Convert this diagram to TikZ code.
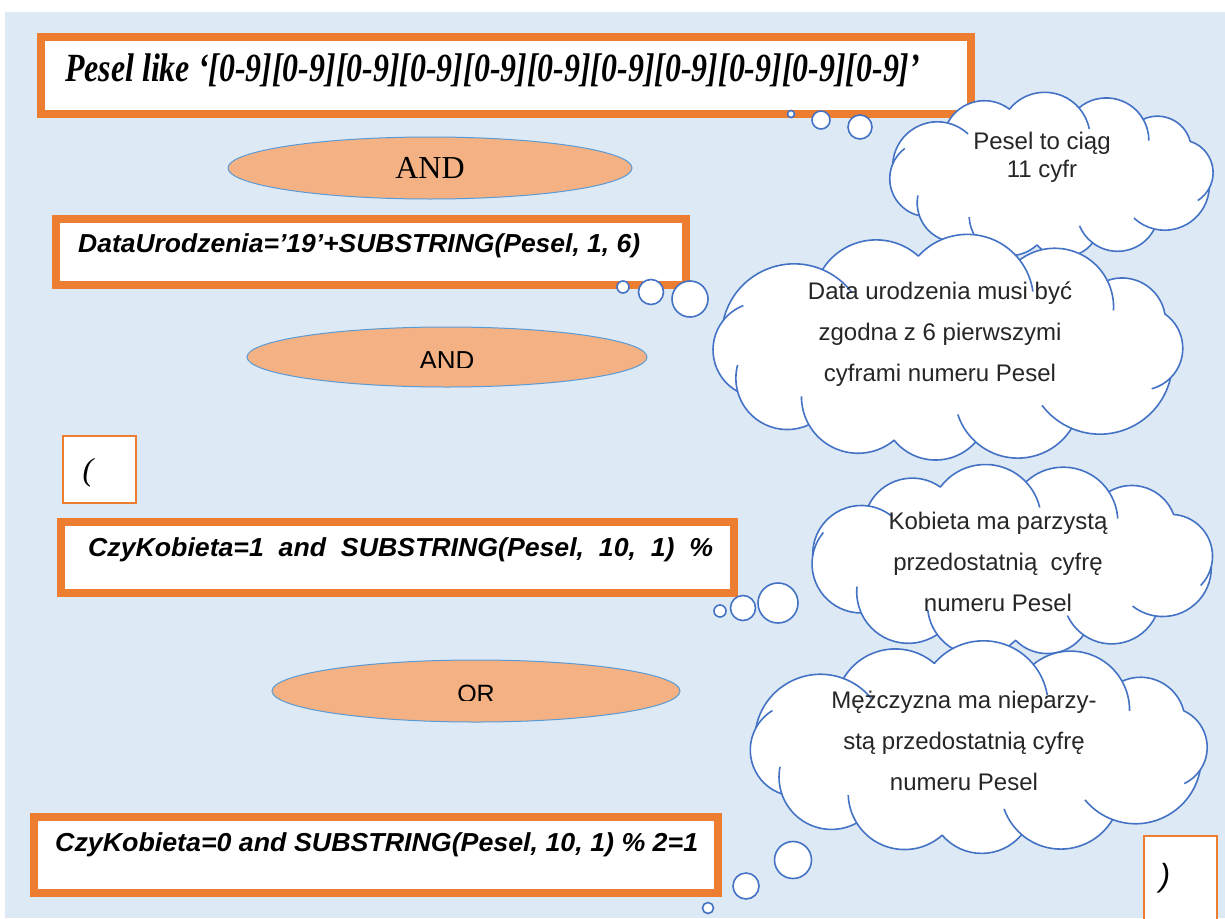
\documentclass[tikz,border=0pt]{standalone}
\usepackage{fontspec}
\setmainfont{Liberation Serif}
\setsansfont{Liberation Sans}
\usetikzlibrary{shapes.geometric,calc}
\definecolor{bgblue}{HTML}{DDE9F5}
\definecolor{boxorange}{HTML}{ED7D31}
\definecolor{ovalfill}{HTML}{F4B183}
\definecolor{ovalline}{HTML}{5B9BD5}
\definecolor{cloudline}{HTML}{4472C4}

% puff junctions on the cloud's base ellipse: angle/inner-arc flag
\def\puffangles{50/1,75/1,95/0,118/1,145/1,190/1,230/1,255/0,280/1,305/1,330/0,370/1}
\def\puffarc{100}   % angle of each outer puff arc
\def\innerarc{30}   % how far a puff continues inside the cloud
% #1,#2 centre, #3 width, #4 height, #5 rotation of the puff pattern
\newcommand\thoughtcloud[5]{%
  \begin{scope}[shift={(#1,#2)}]
    \pgfmathsetmacro\cla{0.47*#3}%
    \pgfmathsetmacro\clb{0.40*#4}%
    \pgfmathsetmacro\clo{#5}%
    \coordinate (pf0) at ({\cla*cos(10+\clo)},{\clb*sin(10+\clo)});
    \foreach \fb/\fl [remember=\fb as \fa (initially 10), count=\k] in \puffangles {
      \pgfmathsetmacro\pxa{\cla*cos(\fa+\clo)}%
      \pgfmathsetmacro\pya{\clb*sin(\fa+\clo)}%
      \pgfmathsetmacro\pxb{\cla*cos(\fb+\clo)}%
      \pgfmathsetmacro\pyb{\clb*sin(\fb+\clo)}%
      \pgfmathsetmacro\gam{atan2(\pyb-\pya,\pxb-\pxa)}%
      \pgfmathsetmacro\chd{veclen(\pxb-\pxa,\pyb-\pya)}%
      \pgfmathsetmacro\rr{\chd/(2*sin(\puffarc/2))}%
      \pgfmathsetmacro\hh{4/3*tan(\puffarc/4)*\rr}%
      \pgfmathsetmacro\hi{4/3*tan(\innerarc/4)*\rr}%
      \pgfmathsetmacro\bb{\gam-90+\puffarc/2}%
      \pgfmathsetmacro\ta{\gam-\puffarc/2}%
      \pgfmathsetmacro\tb{\gam+\puffarc/2}%
      \coordinate (pf\k) at (\pxb,\pyb);
      \coordinate (ps\k) at ({\pxa+\hh*cos(\ta)},{\pya+\hh*sin(\ta)});
      \coordinate (pe\k) at ({\pxb-\hh*cos(\tb)},{\pyb-\hh*sin(\tb)});
      \coordinate (qc\k) at ({\pxb+\rr*(cos(\bb+\innerarc)-cos(\bb))},{\pyb+\rr*(sin(\bb+\innerarc)-sin(\bb))});
      \coordinate (qa\k) at ({\pxb+\hi*cos(\tb)},{\pyb+\hi*sin(\tb)});
      \coordinate (qb\k) at ($(qc\k)-({\hi*cos(\tb+\innerarc)},{\hi*sin(\tb+\innerarc)})$);
    }
    \path[draw=cloudline, fill=white, line width=1.6pt, line join=round]
      (pf0) \foreach \k in {1,...,12} { .. controls (ps\k) and (pe\k) .. (pf\k) } -- cycle;
    \foreach \fb/\fl [count=\k] in \puffangles {
      \ifnum\fl=1
        \draw[cloudline, line width=1.6pt] (pf\k) .. controls (qa\k) and (qb\k) .. (qc\k);
      \fi
    }
  \end{scope}}

\begin{document}
\begin{tikzpicture}[x=1pt,y=-1pt,
  exprbox/.style={draw=boxorange, line width=8pt, fill=white, inner sep=0pt},
  parbox/.style={draw=boxorange, line width=2.5pt, fill=white, inner sep=0pt},
  opnode/.style={ellipse, draw=ovalline, line width=1pt, fill=ovalfill, inner sep=0pt},
  bubble/.style={circle, draw=cloudline, line width=1.6pt, fill=white, inner sep=0pt},
  exprtext/.style={anchor=west, inner sep=0pt, font=\sffamily\bfseries\itshape\fontsize{26}{30}\selectfont},
  notetext/.style={align=center, inner sep=0pt, text=black!85, font=\sffamily\fontsize{24}{41}\selectfont}]
\useasboundingbox (0,0) rectangle (1225,918);
\fill[white] (0,0) rectangle (1225,918);
\fill[bgblue] (5,12) rectangle (1225,918);

% condition boxes
\node[exprbox, minimum width=930pt, minimum height=77pt] (b1) at (506,75.5) {};
\node[exprbox, minimum width=630pt, minimum height=66pt] (b2) at (371,252) {};
\node[exprbox, minimum width=673pt, minimum height=71pt] (b3) at (397.5,557.5) {};
\node[exprbox, minimum width=684pt, minimum height=76pt] (b4) at (376,855) {};
\node[parbox, minimum width=73pt, minimum height=67pt] (p1) at (99.5,469.5) {};
\node[parbox, minimum width=73pt, minimum height=89pt] (p2) at (1180.5,880.5) {};

\node[anchor=west, inner sep=0pt, font=\bfseries\itshape\fontsize{40}{44}\selectfont] (t1) at (65,70)
  {\resizebox{855pt}{\height}{Pesel like ‘[0-9][0-9][0-9][0-9][0-9][0-9][0-9][0-9][0-9][0-9][0-9]’}};
\node[exprtext] (t2) at (78,246) {\resizebox{562pt}{\height}{DataUrodzenia=’19’+SUBSTRING(Pesel, 1, 6)}};
\node[exprtext] (t3) at (88,550) {\resizebox{625pt}{\height}{CzyKobieta=1\ \ and\ \ SUBSTRING(Pesel,\ \ 10,\ \ 1)\ \ \%}};
\node[exprtext] (t4) at (55,845) {\resizebox{643pt}{\height}{CzyKobieta=0 and SUBSTRING(Pesel, 10, 1) \% 2=1}};
\node[inner sep=0pt, font=\itshape\fontsize{32}{34}\selectfont] (pt1) at (88,473) {(};
\node[inner sep=0pt, font=\sffamily\itshape\fontsize{32}{34}\selectfont] (pt2) at (1165,878) {)};

% logical operators
\node[opnode, minimum width=404pt, minimum height=62pt, font=\fontsize{32}{36}\selectfont] (and1) at (430,168) {AND};
\node[opnode, minimum width=400pt, minimum height=60pt] (and2) at (447,357) {};
\node[opnode, minimum width=408pt, minimum height=62pt] (or) at (476,691) {};
\begin{scope}
  \clip (300,330) rectangle (600,367);
  \node[inner sep=0pt, font=\sffamily\fontsize{26}{30}\selectfont] (and2t) at (447,361) {AND};
\end{scope}
\begin{scope}
  \clip (300,660) rectangle (650,700);
  \node[inner sep=0pt, font=\sffamily\fontsize{25}{30}\selectfont] (ort) at (476,694) {OR};
\end{scope}

% thought bubbles
\node[bubble, minimum size=7pt]  (d1a) at (791,114) {};
\node[bubble, minimum size=18pt] (d1b) at (821,120) {};
\node[bubble, minimum size=24pt] (d1c) at (860,127) {};
\node[bubble, minimum size=12pt] (d2a) at (623,287) {};
\node[bubble, minimum size=25pt] (d2b) at (651,292) {};
\node[bubble, minimum size=36pt] (d2c) at (690,299) {};
\node[bubble, minimum size=12pt] (d3a) at (720,611) {};
\node[bubble, minimum size=25pt] (d3b) at (743,608) {};
\node[bubble, minimum size=40pt] (d3c) at (778,603) {};
\node[bubble, minimum size=11pt] (d4a) at (708,908) {};
\node[bubble, minimum size=26pt] (d4b) at (746,886) {};
\node[bubble, minimum size=37pt] (d4c) at (793,860) {};

% clouds
\thoughtcloud{1051}{176}{342}{173}{0}
\thoughtcloud{947}{349}{500}{234}{8}
\thoughtcloud{1012}{561}{425}{198}{-6}
\thoughtcloud{978}{749}{487}{218}{4}

\node[notetext, font=\sffamily\fontsize{24}{28}\selectfont] (n1) at (1042,157) {Pesel to ciąg\\11 cyfr};
\node[notetext] (n2) at (940,334) {Data urodzenia musi być\\zgodna z 6 pierwszymi\\cyframi numeru Pesel};
\node[notetext] (n3) at (998,562) {Kobieta ma parzystą\\przedostatnią\ \ cyfrę\\numeru Pesel};
\node[notetext] (n4) at (964,741) {Mężczyzna ma nieparzy-\\stą przedostatnią cyfrę\\numeru Pesel};
\end{tikzpicture}
\end{document}
